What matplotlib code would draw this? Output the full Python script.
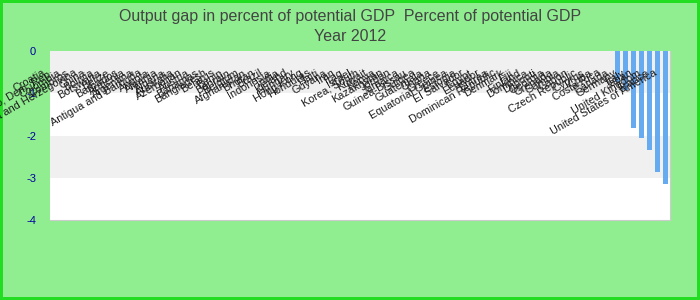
import numpy as np
import matplotlib
matplotlib.use('Agg')
import matplotlib.pyplot as plt

plt.rcParams['font.family'] = 'Liberation Sans'

# countries in chart order (only the last ones carry a value)
countries = ["Croatia", "Congo, Dem. Rep.", "Colombia", "Comoros", "Bosnia and Herzegovina",
             "China", "Bolivia", "Botswana", "Belize", "Barbados", "Armenia", "Argentina",
             "Antigua and Barbuda", "Angola", "Albania", "Algeria", "Australia", "Azerbaijan",
             "Austria", "Bahamas", "Bangladesh", "Belarus", "Benin", "Bahrain", "Belgium",
             "Afghanistan", "Bhutan", "Brazil", "Indonesia", "India", "Iceland", "Hungary",
             "Hong Kong", "Honduras", "Haiti", "Guyana", "Iran", "Iraq", "Israel", "Korea, South",
             "Kuwait", "Kenya", "Kazakhstan", "Jordan", "Jamaica", "Guinea-Bissau", "Guinea",
             "Guatemala", "Ghana", "Greece", "Equatorial Guinea", "Estonia", "El Salvador", "Egypt",
             "Ecuador", "Eritrea", "Dominican Republic", "Denmark", "Fiji", "Finland", "Dominica",
             "Djibouti", "Georgia", "Grenada", "Gambia", "Gabon", "Czech Republic", "Cyprus",
             "Cuba", "Costa Rica", "Canada", "Germany", "Italy", "Japan", "United Kingdom",
             "France", "United States of America"]
gap_known = [-0.73, -0.93, -1.83, -2.05, -2.34, -2.87, -3.15]
values = [np.nan]*(len(countries)-len(gap_known)) + gap_known

title = "Output gap in percent of potential GDP  Percent of potential GDP\nYear 2012"
yticks = [0, -1, -2, -3, -4]

BG = '#90ee90'
fig = plt.figure(figsize=(7, 3), dpi=100, facecolor=BG, edgecolor='#22dd22', linewidth=3)
ax = fig.add_axes([50/700, 1-220/300, 620/700, 169/300])
ax.set_facecolor('white')
ax.set_xlim(-0.5, len(countries)-0.5)
ax.set_ylim(-4, 0)

# alternating plot bands
ax.axhspan(-1, 0, facecolor='#f0f0f0', edgecolor='none', zorder=0)
ax.axhspan(-3, -2, facecolor='#f0f0f0', edgecolor='none', zorder=0)

x = np.arange(len(countries))
vals = np.array(values, dtype=float)
ok = ~np.isnan(vals)
ax.bar(x[ok], vals[ok], width=0.62, color='#66aaf0', zorder=2)

ax.set_yticks(yticks, labels=[str(v) for v in yticks])
ax.tick_params(axis='y', length=0, pad=10, labelsize=8, labelcolor='#0000a0')
ax.tick_params(axis='x', bottom=False, labelbottom=False)
ax.spines['top'].set_visible(False)
ax.spines['left'].set_visible(False)
ax.spines['right'].set_color('#cccccc')
ax.spines['bottom'].set_color('#cccccc')

# rotated category labels, overlapping the top of the plot
for i, c in enumerate(countries):
    ax.text(i - 1.2, -0.5, c, rotation=30, rotation_mode='anchor', ha='right', va='center',
            fontsize=7.8, color='#1a1a1a', zorder=5, clip_on=False)

fig.text(0.5, 0.97, title, ha='center', va='top', fontsize=11.5, color='#444444',
         linespacing=1.45)

fig.savefig('out.png', dpi=100, facecolor=BG, edgecolor='#22dd22')
